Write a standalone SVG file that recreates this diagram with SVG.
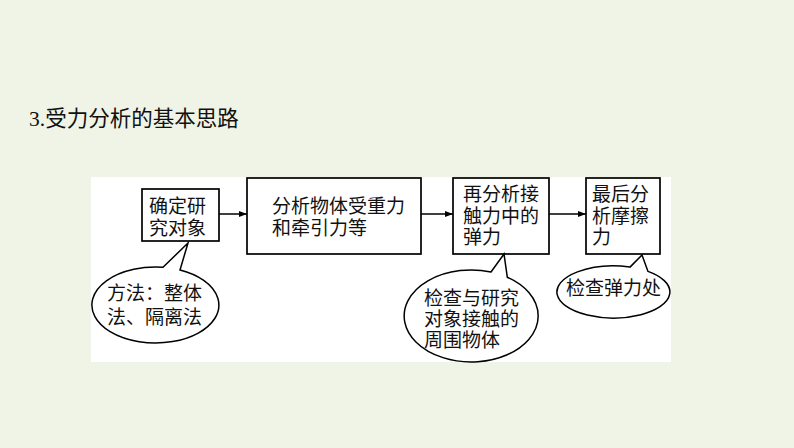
<svg xmlns="http://www.w3.org/2000/svg" width="794" height="448" viewBox="0 0 794 448">
  <style>
    .bg { fill: #eff4e6; }
    .panel { fill: #ffffff; }
    .box { fill: #ffffff; stroke: #000000; stroke-width: 1.7; }
    .bubble { fill: #ffffff; stroke: #000000; stroke-width: 1.5; stroke-linejoin: miter; }
    .conn { stroke: #000000; stroke-width: 1.5; fill: none; }
    .t { font-family: "Noto Sans CJK SC", "Noto Sans CJK JP", sans-serif; font-size: 19px; fill: #111111; }
    .title { font-family: "Liberation Serif", "Noto Sans CJK SC", serif; font-size: 21.5px; fill: #111111; }
  </style>
  <defs>
    <marker id="arrow" markerUnits="userSpaceOnUse" markerWidth="8" markerHeight="6" refX="8" refY="3" orient="auto">
      <path d="M0,0 L8,3 L0,6 Z" fill="#000000"/>
    </marker>
  </defs>

  <rect class="bg" x="0" y="0" width="794" height="448"/>
  <text class="title" x="29" y="125.5">3.受力分析的基本思路</text>
  <rect class="panel" x="91" y="177" width="580" height="185"/>

  <g id="connectors">
    <line class="conn" x1="219" y1="214" x2="247" y2="214" marker-end="url(#arrow)"/>
    <line class="conn" x1="421" y1="214" x2="453" y2="214" marker-end="url(#arrow)"/>
    <line class="conn" x1="549" y1="214" x2="586" y2="214" marker-end="url(#arrow)"/>
  </g>

  <g id="node-1">
    <rect class="box" x="142" y="189" width="77" height="52"/>
    <text class="t"><tspan x="149" y="213">确定研</tspan><tspan x="149" y="235">究对象</tspan></text>
  </g>

  <g id="node-2">
    <rect class="box" x="247" y="178" width="174" height="76"/>
    <text class="t"><tspan x="272" y="213">分析物体受重力</tspan><tspan x="272" y="235">和牵引力等</tspan></text>
  </g>

  <g id="node-3">
    <rect class="box" x="453" y="178" width="96" height="76"/>
    <text class="t"><tspan x="463" y="201">再分析接</tspan><tspan x="463" y="223">触力中的</tspan><tspan x="463" y="244">弹力</tspan></text>
  </g>

  <g id="node-4">
    <rect class="box" x="586" y="178" width="74" height="76"/>
    <text class="t"><tspan x="592" y="201">最后分</tspan><tspan x="592" y="223">析摩擦</tspan><tspan x="592" y="244">力</tspan></text>
  </g>

  <g id="bubble-1">
    <path class="bubble" d="M163,267.3 L188,243 L180,270 A63.5,38 0 1 1 163,267.3 Z"/>
    <text class="t"><tspan x="107" y="300">方法：整体</tspan><tspan x="107" y="324">法、隔离法</tspan></text>
  </g>

  <g id="bubble-2">
    <path class="bubble" d="M491,272 L504,254 L507.3,277.2 A67,46 0 1 1 491,272 Z"/>
    <text class="t"><tspan x="424" y="305">检查与研究</tspan><tspan x="424" y="326">对象接触的</tspan><tspan x="424" y="347">周围物体</tspan></text>
  </g>

  <g id="bubble-3">
    <path class="bubble" d="M630,267.1 L642,255 L648,271.4 A56.5,26 0 1 1 630,267.1 Z"/>
    <text class="t" x="566" y="295">检查弹力处</text>
  </g>
</svg>
